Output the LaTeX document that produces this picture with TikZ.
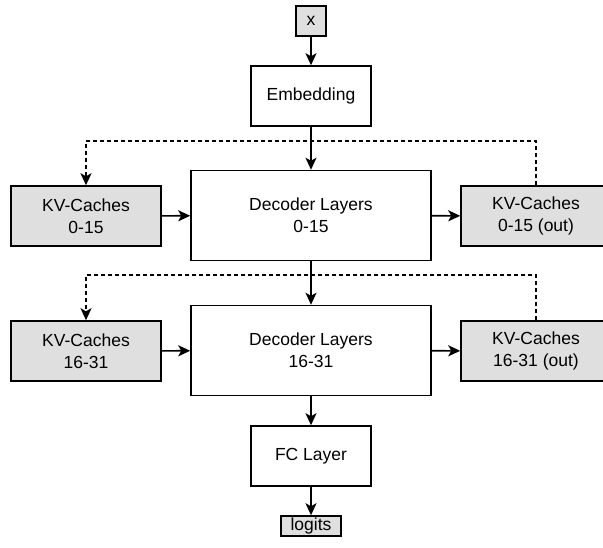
\documentclass[tikz,border=0pt]{standalone}
\usepackage{fontspec}
\setmainfont{Liberation Sans}
\usetikzlibrary{arrows.meta}

\begin{document}
\begin{tikzpicture}[x=1pt, y=-1pt,
        font=\fontsize{17.5}{22}\selectfont,
        block/.style={draw, line width=1.5pt, inner sep=0pt, align=center, fill=white},
        cache/.style={block, fill=gray!25, minimum width=150pt, minimum height=60pt},
        layer/.style={block, minimum width=240pt, minimum height=90pt},
        small/.style={block, minimum width=120pt, minimum height=60pt},
        io/.style={block, fill=gray!25},
        flow/.style={line width=1.6pt, -{Stealth[length=12pt, width=11pt, inset=3pt]}},
        cachelink/.style={flow, dash pattern=on 4pt off 3pt}]
    \useasboundingbox (0,0) rectangle (603,548);
    % main path
    \node[io, minimum width=30pt, minimum height=30pt] (x) at (311,21) {x};
    \node[small] (emb) at (311,96) {Embedding};
    \node[layer] (dec1) at (311,215.5) {Decoder Layers\\0-15};
    \node[layer] (dec2) at (311,350.5) {Decoder Layers\\16-31};
    \node[small] (fc) at (311,456) {FC Layer};
    \node[io, minimum width=60pt, minimum height=20pt] (logits) at (311,526) {logits};
    % caches
    \node[cache] (kvin1) at (86,216) {KV-Caches\\0-15};
    \node[cache] (kvout1) at (536,216) {KV-Caches\\0-15 (out)};
    \node[cache] (kvin2) at (86,351) {KV-Caches\\16-31};
    \node[cache] (kvout2) at (536,351) {KV-Caches\\16-31 (out)};
    \coordinate (loop1) at (0,141);
    \coordinate (loop2) at (0,275);

    \draw[flow] (x) -- (emb);
    \draw[flow] (emb) -- (dec1);
    \draw[flow] (dec1) -- (dec2);
    \draw[flow] (dec2) -- (fc);
    \draw[flow] (fc) -- (logits);
    \draw[flow] (kvin1) -- (dec1);
    \draw[flow] (dec1) -- (kvout1);
    \draw[flow] (kvin2) -- (dec2);
    \draw[flow] (dec2) -- (kvout2);
    % cache feedback
    \draw[cachelink] (kvout1.north) -- (kvout1.north |- loop1) -- (kvin1.north |- loop1) -- (kvin1.north);
    \draw[cachelink] (kvout2.north) -- (kvout2.north |- loop2) -- (kvin2.north |- loop2) -- (kvin2.north);
\end{tikzpicture}
\end{document}
